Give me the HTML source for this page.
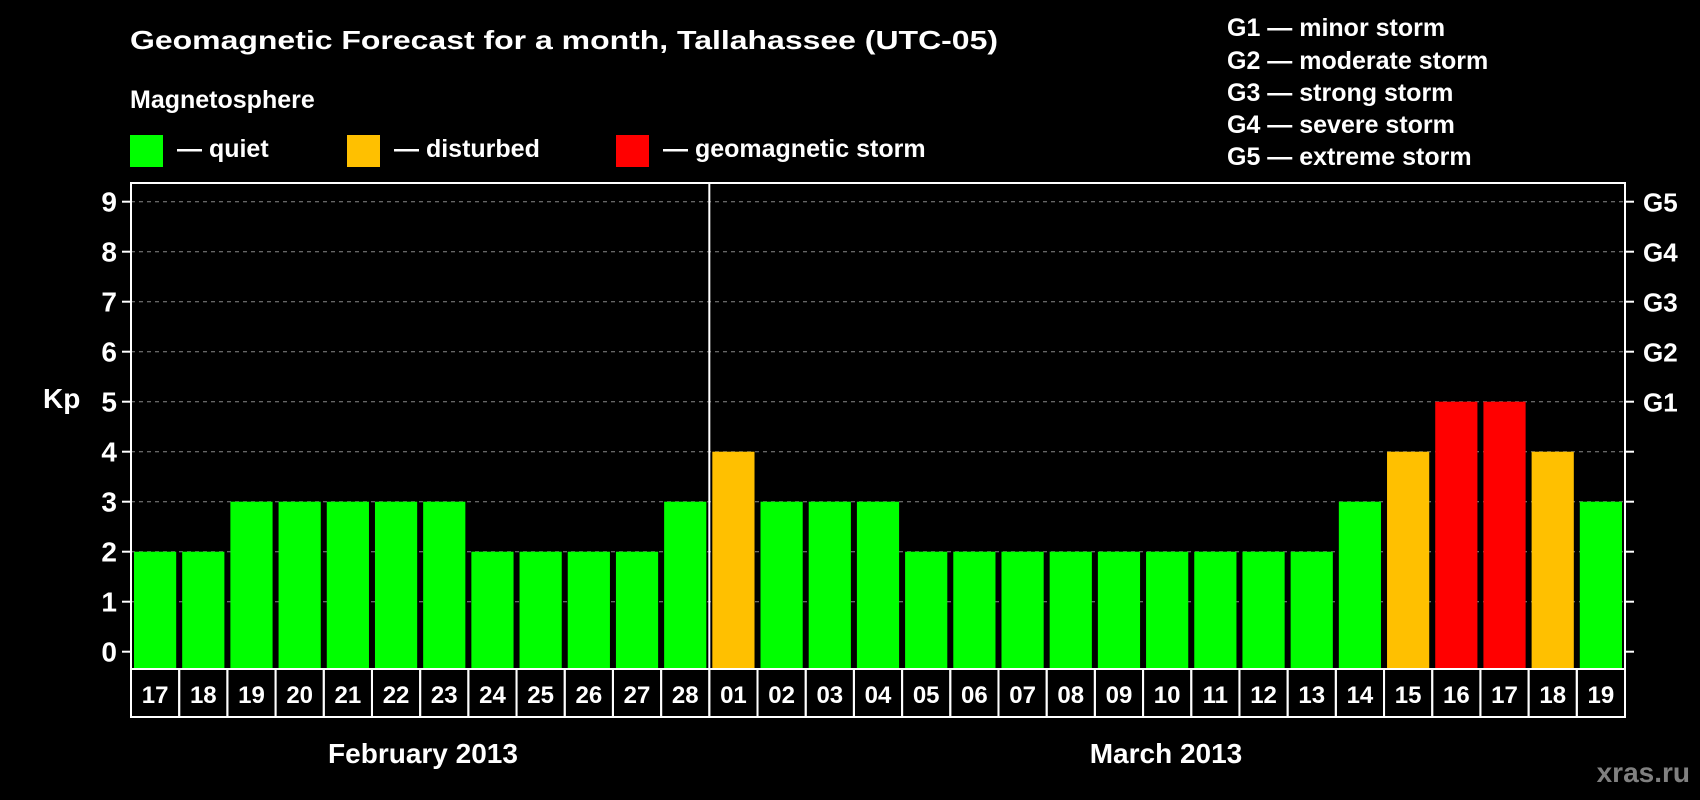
<!DOCTYPE html>
<html><head><meta charset="utf-8"><style>
html,body{margin:0;padding:0;background:#000;}
svg{display:block;font-family:"Liberation Sans",Arial,sans-serif;font-weight:bold;}
</style></head><body>
<svg id="chart" width="1700" height="800" viewBox="0 0 1700 800" xmlns="http://www.w3.org/2000/svg">
<rect width="1700" height="800" fill="#000"/>
<text x="130" y="49" fill="#fff" font-size="26" textLength="868" lengthAdjust="spacingAndGlyphs">Geomagnetic Forecast for a month, Tallahassee (UTC-05)</text>
<text x="130" y="108" fill="#fff" font-size="25">Magnetosphere</text>
<g>
<rect x="130" y="135" width="33" height="32" fill="#00ff00"/>
<text x="177" y="157" fill="#fff" font-size="25">— quiet</text></g>
<g>
<rect x="347" y="135" width="33" height="32" fill="#ffc000"/>
<text x="394" y="157" fill="#fff" font-size="25">— disturbed</text></g>
<g>
<rect x="616" y="135" width="33" height="32" fill="#ff0000"/>
<text x="663" y="157" fill="#fff" font-size="25">— geomagnetic storm</text></g>
<g fill="#fff" font-size="25">
<text x="1227" y="36">G1 — minor storm</text>
<text x="1227" y="69">G2 — moderate storm</text>
<text x="1227" y="101">G3 — strong storm</text>
<text x="1227" y="133">G4 — severe storm</text>
<text x="1227" y="165">G5 — extreme storm</text>
</g>
<text x="43" y="408" fill="#fff" font-size="28">Kp</text>
<g id="plot"></g>
<text x="423" y="763" fill="#fff" font-size="28" text-anchor="middle">February 2013</text>
<text x="1166" y="763" fill="#fff" font-size="28" text-anchor="middle">March 2013</text>
<text x="1690" y="782" fill="#808080" font-size="28" text-anchor="end">xras.ru</text>
</svg>
<script>
const days=["17","18","19","20","21","22","23","24","25","26","27","28","01","02","03","04","05","06","07","08","09","10","11","12","13","14","15","16","17","18","19"];
const kp=[2,2,3,3,3,3,3,2,2,2,2,3,4,3,3,3,2,2,2,2,2,2,2,2,2,3,4,5,5,4,3];
const yTicks=["0","1","2","3","4","5","6","7","8","9"];
const gLabels=["","","","","","G1","G2","G3","G4","G5"];
const NS="http://www.w3.org/2000/svg";
const L=131,R=1625,T=183,B=669,Y0=651.7,UNIT=50;
const cw=(R-L)/days.length;
const x=i=>L+i*cw;
const y=v=>Y0-v*UNIT;
const g=document.getElementById('plot');
function mk(t,a){const e=document.createElementNS(NS,t);for(const k in a)e.setAttribute(k,a[k]);g.appendChild(e);return e;}
function color(v){return v>=5?'#ff0000':v>=4?'#ffc000':'#00ff00';}
yTicks.forEach((t,i)=>{
  if(i>0){const gl=mk('line',{x1:L,x2:R,y1:y(i),y2:y(i),stroke:'#888','stroke-dasharray':'4,4','stroke-width':1});
  
  }
  const tk=mk('line',{x1:L-9,x2:L,y1:y(i),y2:y(i),stroke:'#fff','stroke-width':2});
  
  
  const tr=mk('line',{x1:R,x2:R+9,y1:y(i),y2:y(i),stroke:'#fff','stroke-width':2});
  
  
  const tl=mk('text',{x:L-14,y:y(i)+10,fill:'#fff','font-size':28,'text-anchor':'end'});
  tl.textContent=t;
  
  
  if(gLabels[i]){const gt=mk('text',{x:R+18,y:y(i)+10,fill:'#fff','font-size':26});
  gt.textContent=gLabels[i];
  
  }
});
kp.forEach((v,i)=>{
  const b=mk('rect',{x:x(i)+3,y:y(v),width:cw-6,height:y(0)-y(v)+17,fill:color(v)});
  
  
  const c=mk('rect',{x:x(i),y:B,width:cw,height:48,fill:'none',stroke:'#fff','stroke-width':2});
  
  
  const t=mk('text',{x:x(i)+cw/2,y:B+34,fill:'#fff','font-size':24,'text-anchor':'middle'});
  t.textContent=days[i];
  
  
});
const fr=mk('rect',{x:L,y:T,width:R-L,height:B-T,fill:'none',stroke:'#fff','stroke-width':2});


const sep=mk('line',{x1:x(12),x2:x(12),y1:T,y2:B,stroke:'#fff','stroke-width':2});


</script>
</body></html>
